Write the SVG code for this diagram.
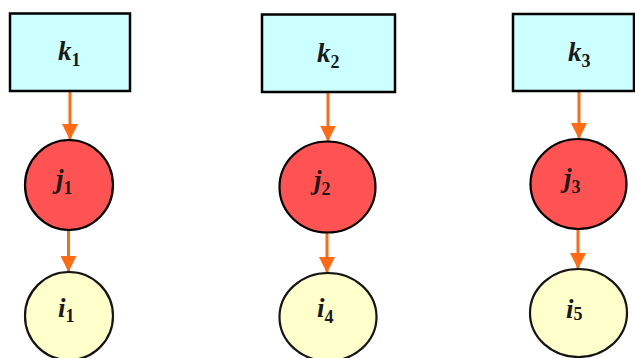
<svg xmlns="http://www.w3.org/2000/svg" width="635" height="358" viewBox="0 0 635 358">
<defs>
<marker id="ah" markerWidth="16" markerHeight="16" refX="16" refY="8" orient="auto" markerUnits="userSpaceOnUse">
<path d="M0,0 L16,8 L0,16 Z" fill="#FF6A13"/>
</marker>
<style>
.box{fill:#CCFFFF;stroke:#000;stroke-width:2.5}
.j{fill:#FF5252;stroke:#000;stroke-width:2.2}
.i{fill:#FFFFCC;stroke:#151515;stroke-width:2.2}
.c{stroke:#FF6A13;stroke-width:3;fill:none;marker-end:url(#ah)}
.t{font-family:"Liberation Serif","DejaVu Serif",serif;font-weight:bold;font-style:italic;font-size:27px;fill:#1a1a1a}
.s{font-size:18px;font-style:normal}
</style>
</defs>
<rect width="635" height="358" fill="#fff"/>
<g id="connectors">
<line class="c" x1="70" y1="92" x2="70" y2="140"/>
<line class="c" x1="68.5" y1="230" x2="68.5" y2="272"/>
<line class="c" x1="328" y1="93" x2="328" y2="141.5"/>
<line class="c" x1="327" y1="232" x2="327" y2="273"/>
<line class="c" x1="579" y1="91" x2="579" y2="139"/>
<line class="c" x1="578" y1="229" x2="578" y2="269"/>
</g>
<g id="k1"><rect class="box" x="10" y="13.5" width="120" height="77.5"/><text class="t" x="58" y="60">k<tspan class="s" dy="6">1</tspan></text></g>
<g id="k2"><rect class="box" x="262" y="14.5" width="133" height="77.5"/><text class="t" x="317" y="62">k<tspan class="s" dy="6">2</tspan></text></g>
<g id="k3"><rect class="box" x="513" y="14" width="121" height="77"/><text class="t" x="568" y="61">k<tspan class="s" dy="6">3</tspan></text></g>
<g id="j1"><ellipse class="j" cx="69" cy="185" rx="44" ry="45"/><text class="t" x="56" y="188">j<tspan class="s" dy="6">1</tspan></text></g>
<g id="j2"><ellipse class="j" cx="327.5" cy="187" rx="48" ry="45.5"/><text class="t" x="314" y="189">j<tspan class="s" dy="6">2</tspan></text></g>
<g id="j3"><ellipse class="j" cx="578.5" cy="184" rx="48" ry="45"/><text class="t" x="564" y="187">j<tspan class="s" dy="6">3</tspan></text></g>
<g id="i1"><ellipse class="i" cx="69" cy="316" rx="44" ry="44"/><text class="t" x="58" y="317">i<tspan class="s" dy="5">1</tspan></text></g>
<g id="i4"><ellipse class="i" cx="328" cy="317" rx="48.5" ry="44"/><text class="t" x="317" y="317">i<tspan class="s" dy="6">4</tspan></text></g>
<g id="i5"><ellipse class="i" cx="578.5" cy="313" rx="48.5" ry="44"/><text class="t" x="566" y="318">i<tspan class="s" dy="2">5</tspan></text></g>
</svg>
